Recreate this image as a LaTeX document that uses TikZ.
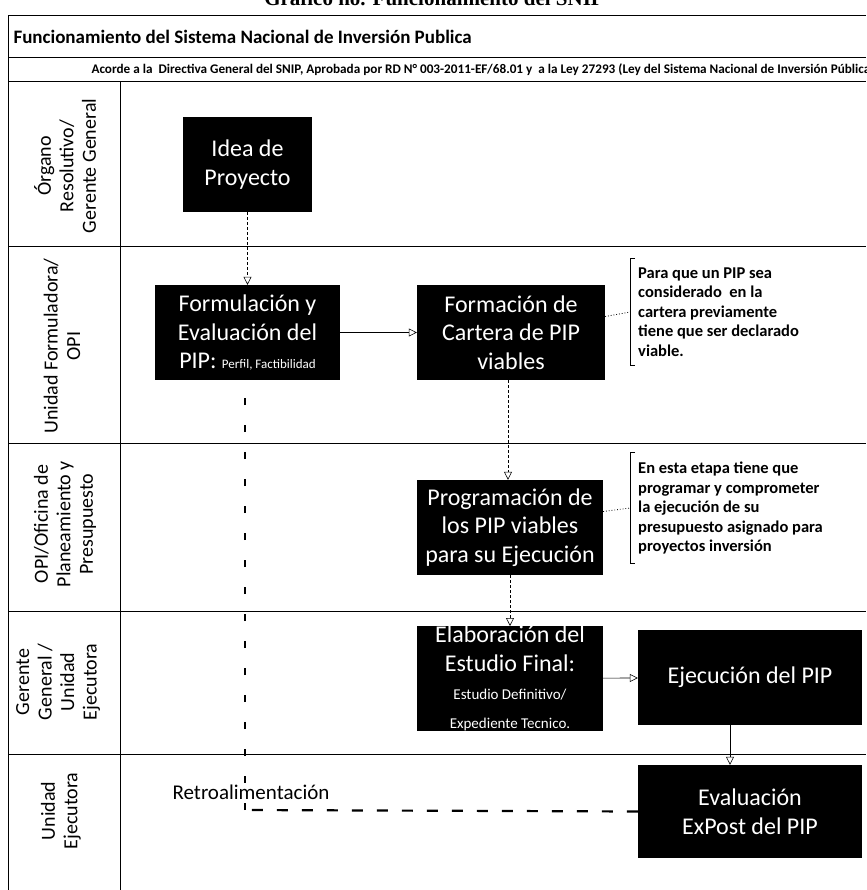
\documentclass[tikz,border=0pt]{standalone}
\usepackage{fontspec}
\setmainfont{Carlito}
\newfontfamily\timesfont{Liberation Serif}
\usetikzlibrary{arrows.meta}

\begin{document}
\begin{tikzpicture}
      [x=1pt, y=-1pt,
        stage/.style={fill=black, text=white, align=center, inner sep=0pt,
          font=\fontsize{24}{28.5}\selectfont},
        lane/.style={rotate=90, align=center, font=\fontsize{20}{22.5}\selectfont},
        note/.style={align=left, anchor=west, inner xsep=8pt, inner ysep=9pt,
          font=\bfseries\fontsize{16.5}{19.5}\selectfont},
        opentip/.style={-{Triangle[open, length=8pt, width=8pt, line width=.6pt]}},
        flow/.style={opentip, line width=.6pt},
        feedback/.style={line width=2.2pt, dash pattern=on 11pt off 14pt},
        rule/.style={line width=1pt}]
      \useasboundingbox (0,0) rectangle (866,890);

      % frame and lanes
      \draw[rule] (866,16) -- (8,16) -- (8,890);
      \draw[rule] (8,58) -- (866,58);
      \draw[rule] (8,82) -- (866,82);
      \draw[rule] (120,82) -- (120,890);
      \foreach \y in {247,443,611,754}
        \draw[rule] (8,\y) -- (866,\y);

      % headings
      \node[anchor=base, font=\timesfont\bfseries\fontsize{21}{24}\selectfont] (graf)
        at (434,6) {Gráfico no. Funcionamiento del SNIP};
      \node[anchor=west, font=\bfseries\fontsize{19}{22}\selectfont] (title)
        at (10,37) {Funcionamiento del Sistema Nacional de Inversión Publica};
      \node[anchor=west, font=\bfseries\fontsize{13.2}{15}\selectfont] (sub)
        at (88,70) {Acorde a la\ \ Directiva General del SNIP, Aprobada por RD N° 003-2011-EF/68.01 y\ \ a la Ley 27293 (Ley del Sistema Nacional de Inversión Pública};

      % lane labels
      \node[lane] (l1) at (65,166) {Órgano\\Resolutivo/\\Gerente General};
      \node[lane] (l2) at (62,346) {Unidad Formuladora/\\OPI};
      \node[lane] (l3) at (65,524) {OPI/Oficina de\\Planeamiento y\\Presupuesto};
      \node[lane] (l4) at (58,682) {Gerente\\General /\\Unidad\\Ejecutora};
      \node[lane] (l5) at (61,811) {Unidad\\Ejecutora};

      % stages
      \node[stage, minimum width=129pt, minimum height=95pt] (idea) at (247.5,164.5)
        {Idea de\\Proyecto};
      \node[stage, minimum width=185pt, minimum height=95pt] (fye) at (247.5,332.5)
        {Formulación y\\Evaluación del\\PIP: {\fontsize{13}{15}\selectfont Perfil, Factibilidad}};
      \node[stage, minimum width=188pt, minimum height=95pt] (cart) at (511,332.5)
        {Formación de\\Cartera de PIP\\viables};
      \node[stage, minimum width=186pt, minimum height=95pt] (prog) at (510,527.5)
        {Programación de\\los PIP viables\\para su Ejecución};
      \node[stage, minimum width=186pt, minimum height=97pt] (elab) at (510,678.5)
        {Elaboración del\\Estudio Final:\\{\fontsize{15}{18}\selectfont Estudio Definitivo/}\\{\fontsize{15}{18}\selectfont Expediente Tecnico.}};
      \node[stage, minimum width=224pt, minimum height=95pt] (ejec) at (750,677.5)
        {Ejecución del PIP};
      \node[stage, minimum width=224pt, minimum height=93pt] (expo) at (750,811.5)
        {Evaluación\\ExPost del PIP};

      % notes
      \node[note] (nt1) at (630,312)
        {Para que un PIP sea\\considerado\ \ en la\\cartera previamente\\tiene que ser declarado\\viable.};
      \node[note] (nt2) at (630,508)
        {En esta etapa tiene que\\programar y comprometer\\la ejecución de su\\presupuesto asignado para\\proyectos inversión};
      \draw[line width=1pt] ([xshift=5pt]nt1.north west) -- (nt1.north west)
        -- (nt1.south west) -- ([xshift=5pt]nt1.south west);
      \draw[line width=1pt] ([xshift=5pt]nt2.north west) -- (nt2.north west)
        -- (nt2.south west) -- ([xshift=5pt]nt2.south west);
      \draw[dotted, line width=.8pt] ([yshift=16pt]cart.east) -- (nt1.west);
      \draw[dotted, line width=.8pt] ([yshift=16pt]prog.east) -- (nt2.west);

      % flow
      \draw[flow, densely dashed] (idea) -- (fye);
      \draw[flow] (fye) -- (cart);
      \draw[flow, densely dashed] ([xshift=-3pt]cart.south) -- ([xshift=-3pt]cart.south |- prog.north);
      \draw[flow, densely dashed] (prog) -- (elab);
      \draw[flow] (elab) -- (ejec);
      \draw[flow] ([xshift=-20pt]ejec.south) -- ([xshift=-20pt]expo.north);

      % feedback
      \coordinate (fb) at (245,810);
      \draw[feedback] (expo.west) -- (fb);
      \draw[feedback, line width=1.6pt, dash pattern=on 7pt off 20pt, opentip, shorten >=-14pt]
        (fb) -- (fb |- fye.south);
      \node[fill=white, inner sep=2pt, font=\fontsize{21}{24}\selectfont] (retro)
        at (251,792) {Retroalimentación};
\end{tikzpicture}
\end{document}
